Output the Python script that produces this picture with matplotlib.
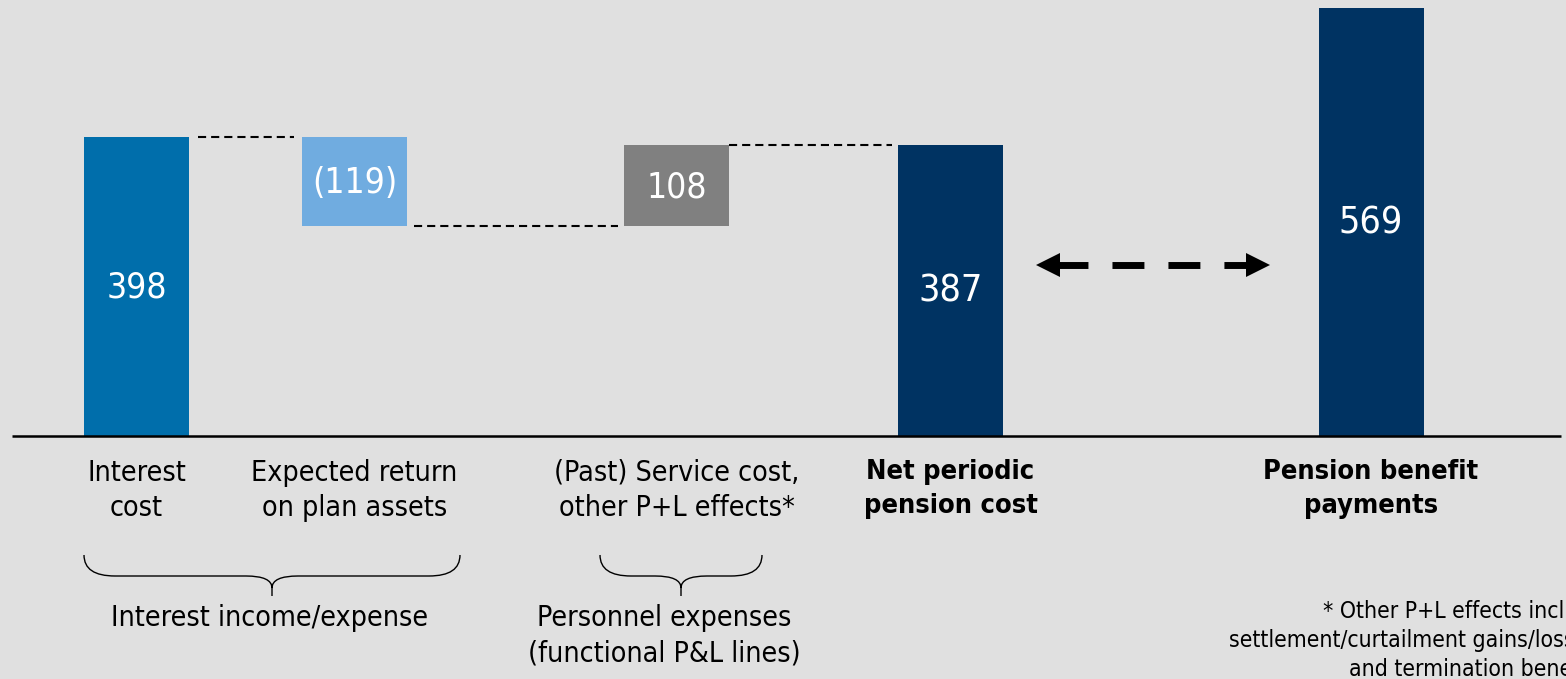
import numpy as np
import matplotlib
matplotlib.use("Agg")
import matplotlib.pyplot as plt
from matplotlib.path import Path
from matplotlib.patches import PathPatch

# waterfall data
categories = ["Interest\ncost", "Expected return\non plan assets",
              "(Past) Service cost,\nother P+L effects*",
              "Net periodic\npension cost", "Pension benefit\npayments"]
values = [398, -119, 108, 387, 569]
kinds = ["start", "delta", "delta", "total", "total"]
bold_label = [False, False, False, True, True]
colors = ["#006eab", "#70ace0", "#808080", "#003362", "#003362"]

group_labels = ["Interest income/expense", "Personnel expenses\n(functional P&L lines)"]
footnote_lines = ["* Other P+L effects include",
                  "settlement/curtailment gains/losses",
                  "and termination benefits"]

# layout (pixel based, 100 dpi)
W, H = 1566, 679
base_row = 436          # pixel row of the zero line
px_per_unit = 0.752
xpos = [136.5, 354.5, 676.5, 950.5, 1371]
bar_w = 105
BG = "#e0e0e0"

plt.rcParams["font.family"] = ["DejaVu Sans"]
FONT = dict(family="DejaVu Sans", stretch="condensed")


def yrow(r):
    # pixel row -> data value
    return (base_row - r) / px_per_unit


fig = plt.figure(figsize=(W / 100, H / 100), dpi=100, facecolor=BG)
ax = fig.add_axes([0, 0, 1, 1])
ax.set_facecolor(BG)
ax.set_xlim(0, W)
ax.set_ylim(yrow(H), yrow(0))
ax.axis("off")

# compute floating bars
bottoms, heights = [], []
running = 0
for v, k in zip(values, kinds):
    if k == "delta":
        lo = min(running, running + v)
        bottoms.append(lo)
        heights.append(abs(v))
        running += v
    else:
        bottoms.append(0)
        heights.append(v)
        running = v

ax.bar(xpos, heights, bottom=bottoms, width=bar_w, color=colors, zorder=3)

# value labels inside the bars
for i, v in enumerate(values):
    txt = f"({abs(v)})" if v < 0 else f"{v}"
    size = 25.5 if kinds[i] != "total" else 27
    ax.text(xpos[i], bottoms[i] + heights[i] / 2 - 2, txt, color="white",
            ha="center", va="center", fontsize=size, zorder=4, **FONT)

# dashed connectors between bars
conn = [(0, 1, 398, 9, 8), (1, 2, 398 - 119, 7, 6), (2, 3, 398 - 119 + 108, 0, 6)]
for a, b, lvl, ga, gb in conn:
    x0 = xpos[a] + bar_w / 2 + ga
    x1 = xpos[b] - bar_w / 2 - gb
    ax.plot([x0, x1], [lvl, lvl], color="black", lw=1.5,
            linestyle=(0, (3.9, 2.4)), zorder=2)

# zero line
ax.plot([12, 1561], [0, 0], color="black", lw=1.8, zorder=5, solid_capstyle="butt")

# category labels
for i, lab in enumerate(categories):
    ax.text(xpos[i], yrow(459), lab, ha="center", va="top",
            fontsize=19.5 if bold_label[i] else 20.5,
            linespacing=1.42 if bold_label[i] else 1.34,
            fontweight="bold" if bold_label[i] else "normal",
            color="black", **FONT)


# curly braces under grouped categories
def brace(x0, x1, xc, top=555, mid=576, tip=596):
    r = 31
    verts = [
        (x0, top), (x0, mid), (x0 + r, mid),
        (xc - 26, mid),
        (xc, mid), (xc, tip - 8),
        (xc, tip),
        (xc, tip - 8), (xc, mid), (xc + 26, mid),
        (x1 - r, mid),
        (x1, mid), (x1, top),
    ]
    codes = [Path.MOVETO, Path.CURVE3, Path.CURVE3, Path.LINETO,
             Path.CURVE3, Path.CURVE3, Path.LINETO,
             Path.MOVETO, Path.CURVE3, Path.CURVE3, Path.LINETO,
             Path.CURVE3, Path.CURVE3]
    verts = [(vx, yrow(vy)) for vx, vy in verts]
    ax.add_patch(PathPatch(Path(verts, codes), fill=False, lw=1.0, color="black"))


brace(84, 460, 272)
brace(600, 762, 681)

ax.text(270, yrow(604), group_labels[0], ha="center", va="top", fontsize=20.5,
        linespacing=1.34, **FONT)
ax.text(664, yrow(604), group_labels[1], ha="center", va="top", fontsize=20.5,
        linespacing=1.34, **FONT)

# double-headed dashed arrow
ay = yrow(265)
ax.plot([1056, 1256], [ay, ay], color="black", lw=5, linestyle=(0, (4.6, 3.46)),
        solid_capstyle="butt", dash_capstyle="butt", zorder=3)
ax.plot([1048], [ay], marker="<", ms=17.5, color="black", mew=0, zorder=4)
ax.plot([1258], [ay], marker=">", ms=17.5, color="black", mew=0, zorder=4)

# footnote, runs off the right edge
foot_left = [1323, 1229, 1349]
for k, line in enumerate(footnote_lines):
    ax.text(foot_left[k], yrow(618 + 29 * k), line, ha="left", va="baseline",
            fontsize=16.5, **FONT)

fig.savefig("out.png", dpi=100, facecolor=BG)
